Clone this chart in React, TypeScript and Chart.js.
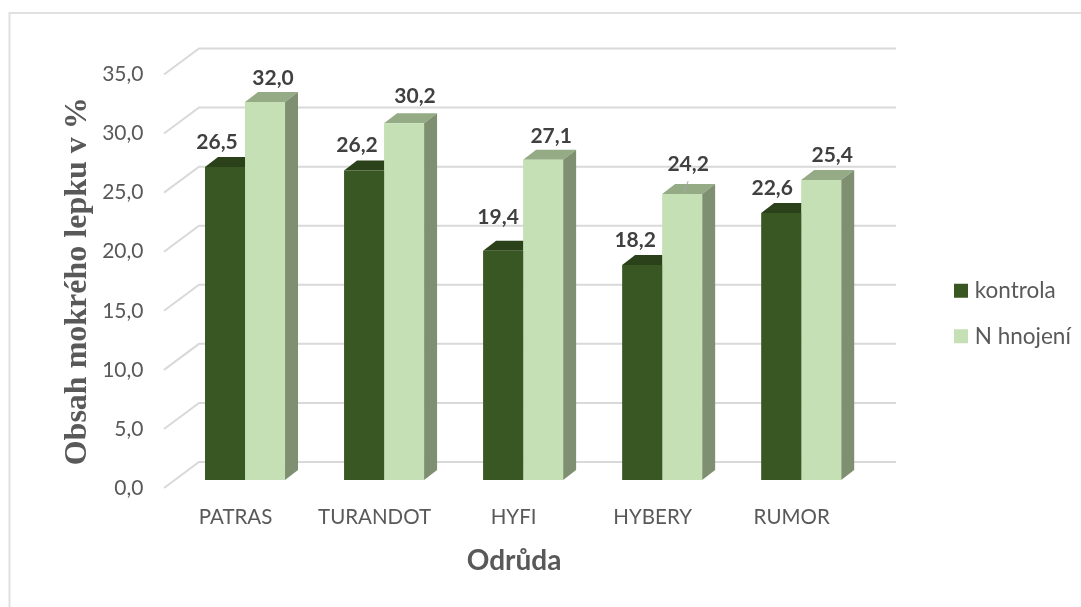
import React, { useEffect, useRef } from "react";
import { Chart, registerables } from "chart.js";

Chart.register(...registerables);

const categories = ["PATRAS", "TURANDOT", "HYFI", "HYBERY", "RUMOR"];
const kontrola = [26.5, 26.2, 19.4, 18.2, 22.6];
const hnojeni = [32.0, 30.2, 27.1, 24.2, 25.4];
const seriesNames = ["kontrola", "N hnojení"];
const labelNudges = [
  [[-8, -25], [-7, -25], [-5, -34], [-7, -25], [-9, -25]],
  [[8, -24], [11, -27], [8, -24], [6, -30], [11, -25]],
];

const FRONT = ["#385723", "#C5E0B4"];
const TOP = ["#2A4119", "#94AB86"];
const SIDE = ["#2A4119", "#7E9071"];
const GRID = "#D9D9D9";
const TEXT = "#595959";
const SANS = "Lato, 'Open Sans', sans-serif";

const DEPTH_X = 13;
const DEPTH_Y = 10;
const BAR_SHIFT = 8;
const BACK_Y = 26;
const BACK_LEFT = 199;
const BACK_RIGHT = 896;
const DIAG_LEFT = 164;

const fmt = (v: number) => v.toFixed(1).replace(".", ",");

const bar3d = {
  id: "bar3d",
  beforeDraw(chart: any) {
    const { ctx, width, height } = chart;
    ctx.save();
    ctx.fillStyle = "#fff";
    ctx.fillRect(0, 0, width, height);
    ctx.strokeStyle = "#E0E0E0";
    ctx.lineWidth = 2;
    ctx.beginPath();
    ctx.moveTo(9.5, height);
    ctx.lineTo(9.5, 13);
    ctx.lineTo(width, 13);
    ctx.stroke();
    ctx.restore();
  },
  beforeDatasetsDraw(chart: any) {
    const { ctx, scales } = chart;
    ctx.save();
    ctx.strokeStyle = GRID;
    ctx.lineWidth = 2;
    scales.y.ticks.forEach((t: any) => {
      const y = scales.y.getPixelForValue(t.value);
      ctx.beginPath();
      ctx.moveTo(DIAG_LEFT, y);
      ctx.lineTo(BACK_LEFT, y - BACK_Y);
      ctx.lineTo(BACK_RIGHT, y - BACK_Y);
      ctx.stroke();
    });
    ctx.restore();
    ctx.save();
    ctx.translate(0, -BAR_SHIFT);
    [0, 1].forEach((d) => {
      chart.getDatasetMeta(d).data.forEach((bar: any) => {
        const l = bar.x - bar.width / 2;
        const r = bar.x + bar.width / 2;
        const t = bar.y;
        const b = bar.base;
        ctx.fillStyle = TOP[d];
        ctx.beginPath();
        ctx.moveTo(l, t);
        ctx.lineTo(l + DEPTH_X, t - DEPTH_Y);
        ctx.lineTo(r + DEPTH_X, t - DEPTH_Y);
        ctx.lineTo(r, t);
        ctx.closePath();
        ctx.fill();
        ctx.fillStyle = SIDE[d];
        ctx.beginPath();
        ctx.moveTo(r, t);
        ctx.lineTo(r + DEPTH_X, t - DEPTH_Y);
        ctx.lineTo(r + DEPTH_X, b - DEPTH_Y);
        ctx.lineTo(r, b);
        ctx.closePath();
        ctx.fill();
      });
    });
  },
  afterDatasetsDraw(chart: any) {
    const { ctx, chartArea } = chart;
    ctx.restore();
    ctx.save();
    const leader = chart.getDatasetMeta(1).data[3];
    ctx.strokeStyle = "#A6A6A6";
    ctx.lineWidth = 1;
    ctx.beginPath();
    ctx.moveTo(leader.x + 1, leader.y - BAR_SHIFT);
    ctx.lineTo(leader.x + 6, leader.y - BAR_SHIFT - 13);
    ctx.stroke();
    ctx.font = `bold 21px ${SANS}`;
    ctx.fillStyle = "#404040";
    ctx.textAlign = "center";
    ctx.textBaseline = "middle";
    [0, 1].forEach((d) => {
      chart.getDatasetMeta(d).data.forEach((bar: any, i: number) => {
        const v = chart.data.datasets[d].data[i];
        const [nx, ny] = labelNudges[d][i];
        ctx.fillText(fmt(v), bar.x + nx, bar.y - BAR_SHIFT + ny);
      });
    });
    ctx.font = `bold 28px ${SANS}`;
    ctx.fillStyle = TEXT;
    ctx.fillText("Odrůda", (chartArea.left + chartArea.right) / 2 - 9, 561);
    ctx.restore();
  },
  afterLayout(chart: any) {
    chart.legend.left = 935.5;
    chart.legend.right = chart.width;
    chart.legend.top = 20;
    chart.legend.bottom = chart.height;
  },
};

export default function App() {
  const ref = useRef<HTMLCanvasElement>(null);
  useEffect(() => {
    const chart = new Chart(ref.current as HTMLCanvasElement, {
      type: "bar",
      data: {
        labels: categories,
        datasets: [
          { label: seriesNames[0], data: kontrola, backgroundColor: FRONT[0] },
          { label: seriesNames[1], data: hnojeni, backgroundColor: FRONT[1] },
        ],
      },
      plugins: [bar3d],
      options: {
        responsive: false,
        animation: false,
        layout: { padding: { left: 58.5, right: 65, top: 74.5, bottom: 0 } },
        datasets: { bar: { categoryPercentage: 0.5755, barPercentage: 1 } },
        scales: {
          x: {
            afterFit: (s: any) => { s.height = 119; },
            grid: { display: false },
            border: { display: false },
            ticks: { color: TEXT, font: { family: SANS, size: 20.5 }, padding: 9, labelOffset: -9.5, maxRotation: 0 },
          },
          y: {
            min: 0,
            max: 35,
            afterFit: (s: any) => { s.width = 117; },
            grid: { display: false, drawTicks: false },
            border: { display: false },
            ticks: { color: TEXT, font: { family: SANS, size: 21 }, padding: 32, stepSize: 5, callback: (v: any) => fmt(Number(v)) },
            title: {
              display: true,
              text: "Obsah mokrého lepku v %",
              color: TEXT,
              font: { family: "'Liberation Serif', serif", size: 32, weight: "bold" },
              padding: 0,
            },
          },
        },
        plugins: {
          legend: {
            position: "right",
            align: "center",
            labels: {
              boxWidth: 5,
              boxHeight: 5,
              padding: 23,
              color: TEXT,
              font: { family: SANS, size: 22.5 },
              generateLabels: (c: any) =>
                (Chart.defaults.plugins.legend.labels as any).generateLabels(c).map((i: any) => ({
                  ...i,
                  lineWidth: 9,
                  strokeStyle: i.fillStyle,
                })),
            },
          },
          tooltip: { enabled: false },
        },
      },
    } as any);
    return () => chart.destroy();
  }, []);
  return (
    <>
      <style>{"html,body{margin:0;padding:0;background:#fff}"}</style>
      <canvas ref={ref} width={1081} height={607} style={{ display: "block" }} />
    </>
  );
}
